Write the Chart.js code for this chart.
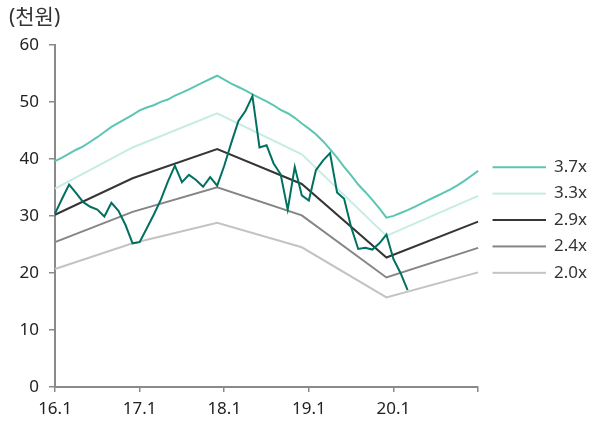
<!DOCTYPE html>
<html>
<head>
<meta charset="utf-8">
<script src="https://cdn.jsdelivr.net/npm/chart.js@4"></script>
<style>
  html, body { margin: 0; padding: 0; background: #ffffff; }
  #wrap { width: 601px; height: 421px; }
</style>
</head>
<body>
<div id="wrap"><canvas id="c" width="601" height="421"></canvas></div>
<script>
// Monthly categories, Jan 2016 through Jan 2021
const months = [];
for (let y = 16; y <= 20; y++) {
  for (let m = 1; m <= 12; m++) months.push(y + '.' + m);
}
months.push('21.1');

const xTickLabels = ['16.1', '17.1', '18.1', '19.1', '20.1'];
const yTicks = [0, 10, 20, 30, 40, 50, 60];

// Monthly share price (천원)
const price = [30.4, 33.0, 35.5, 34.0, 32.4, 31.6, 31.1, 29.9, 32.3, 30.9,
               28.4, 25.2, 25.4, 27.8, 30.2, 32.8, 36.0, 38.8, 35.9, 37.2,
               36.3, 35.1, 36.8, 35.3, 38.8, 42.8, 46.6, 48.4, 51.0, 42.0,
               42.4, 39.2, 37.3, 31.1, 38.6, 33.6, 32.7, 38.0, 39.7, 41.0,
               34.1, 33.0, 28.0, 24.2, 24.4, 24.1, 25.2, 26.7, 22.4, 20.0, 17.0];

// 3.7x PBR band, monthly
const band37 = [39.6, 40.2, 40.9, 41.6, 42.2, 43.0, 43.8, 44.7, 45.6, 46.3,
                47.0, 47.7, 48.5, 49.0, 49.4, 50.0, 50.4, 51.1, 51.6, 52.2,
                52.8, 53.4, 54.0, 54.6, 53.9, 53.2, 52.6, 52.0, 51.3, 50.7,
                50.1, 49.4, 48.6, 48.0, 47.2, 46.2, 45.3, 44.3, 43.1, 41.7,
                40.2, 38.6, 37.1, 35.5, 34.2, 32.8, 31.3, 29.7, 30.0, 30.5,
                31.0, 31.6, 32.2, 32.8, 33.4, 34.0, 34.6, 35.3, 36.1, 37.0, 37.9];

// Other bands: values at year-end anchor months, joined by straight segments
const bandMonths = ['16.1', '16.12', '17.12', '18.12', '19.12', '21.1'];
const band33 = [34.8, 42.0, 48.0, 40.8, 26.5, 33.5];
const band29 = [30.2, 36.6, 41.7, 35.6, 22.7, 29.0];
const band24 = [25.4, 30.7, 35.0, 30.1, 19.2, 24.4];
const band20 = [20.7, 25.2, 28.8, 24.5, 15.7, 20.1];

const FONT = "'Noto Sans', 'Noto Sans CJK KR', sans-serif";
const AXIS = '#8a8a8a';

// Legend swatch: short horizontal stroke with a small lead-in gap
function swatch(color) {
  const cv = document.createElement('canvas');
  cv.width = 58; cv.height = 4;
  const g = cv.getContext('2d');
  g.fillStyle = color;
  g.fillRect(5, 1, 53, 2);
  return cv;
}

function anchored(vals) {
  return bandMonths.map((m, i) => ({ x: m, y: vals[i] }));
}

function bandSet(label, data, color) {
  return {
    label, data,
    borderColor: color, backgroundColor: color,
    borderWidth: 2, pointRadius: 0, pointHoverRadius: 0,
    pointStyle: swatch(color), tension: 0, fill: false, spanGaps: true
  };
}

new Chart(document.getElementById('c'), {
  type: 'line',
  data: {
    labels: months,
    datasets: [
      {
        label: '주가', data: price,
        borderColor: '#00705f', backgroundColor: '#00705f',
        borderWidth: 2, pointRadius: 0, pointHoverRadius: 0, tension: 0, fill: false
      },
      bandSet('3.7x', band37, '#5cc6b3'),
      bandSet('3.3x', anchored(band33), '#c6ece3'),
      bandSet('2.9x', anchored(band29), '#363636'),
      bandSet('2.4x', anchored(band24), '#858585'),
      bandSet('2.0x', anchored(band20), '#c3c3c3')
    ]
  },
  options: {
    responsive: false,
    animation: false,
    devicePixelRatio: 1,
    layout: { padding: { left: 9, right: 4, top: 0, bottom: 0 } },
    plugins: {
      tooltip: { enabled: false },
      title: {
        display: true, text: '(천원)', align: 'start', color: '#333333',
        font: { size: 21, family: FONT, weight: 'normal' },
        padding: { top: 5, bottom: 14.6 }
      },
      legend: {
        position: 'right', align: 'center',
        title: { display: true, text: '', font: { size: 10 }, padding: { top: 0, bottom: 7 } },
        labels: {
          filter: item => item.datasetIndex > 0,
          usePointStyle: true, pointStyleWidth: 58,
          color: '#333333', padding: 9.4,
          font: { size: 17, family: FONT }
        }
      }
    },
    scales: {
      x: {
        type: 'category', offset: false,
        afterBuildTicks: s => {
          s.ticks = s.ticks.filter(t =>
            xTickLabels.includes(months[t.value]) || t.value === months.length - 1);
        },
        afterFit: s => { s.height = 34; },
        ticks: {
          autoSkip: false, maxRotation: 0, color: '#222222', padding: 7,
          font: { size: 17, family: FONT },
          callback: v => (xTickLabels.includes(months[v]) ? months[v] : '')
        },
        grid: { drawOnChartArea: false, drawTicks: true, tickLength: 5, color: AXIS, lineWidth: 1.5 },
        border: { color: AXIS, width: 2 }
      },
      y: {
        min: 0, max: 60,
        afterBuildTicks: s => { s.ticks = yTicks.map(v => ({ value: v })); },
        afterFit: s => { s.width = 46; },
        ticks: { color: '#222222', padding: 10, font: { size: 17, family: FONT } },
        grid: { drawOnChartArea: false, drawTicks: true, tickLength: 6, color: AXIS, lineWidth: 1.5 },
        border: { color: AXIS, width: 2 }
      }
    }
  }
});
</script>
</body>
</html>
